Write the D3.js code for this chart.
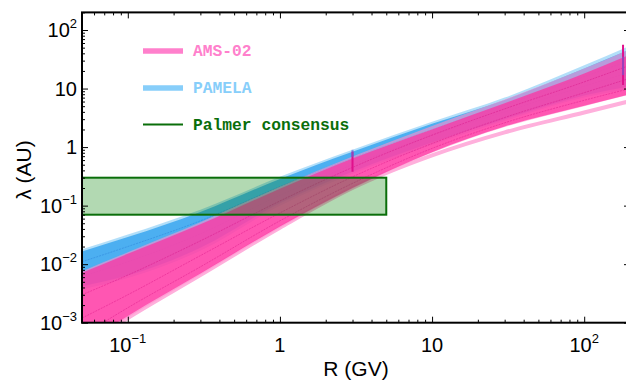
<!DOCTYPE html>
<html>
<head>
<meta charset="utf-8">
<script src="https://cdn.jsdelivr.net/npm/d3@7"></script>
<style>
  html, body { margin: 0; padding: 0; background: #fff; }
  svg { display: block; font-family: "Liberation Sans", Arial, sans-serif; }
  .legend text { font-family: "Liberation Mono", "Courier New", monospace; font-weight: bold; font-size: 16.3px; }
</style>
</head>
<body>
<div id="app"></div>
<script>
// rigidity knots (GV) and band edges (AU)
const R = [0.05, 0.1, 0.3, 1, 3, 10, 30, 100, 200];

const pamelaHi     = [0.018, 0.032, 0.085, 0.31, 0.90, 2.7, 7.0, 25, 54];
const pamelaLo     = [0.0037, 0.0058, 0.017, 0.10, 0.35, 1.1, 2.8, 7.0, 10];
const pamelaCoreHi = [0.0165, 0.029, 0.078, 0.285, 0.83, 2.5, 6.4, 22, 47];
const pamelaCoreLo = [0.0042, 0.0064, 0.019, 0.11, 0.38, 1.2, 3.0, 7.6, 11];
const pamelaStreaks = [
  [0.011, 0.020, 0.055, 0.21, 0.65, 2.0, 5.2, 16, 30],
  [0.0062, 0.011, 0.033, 0.15, 0.50, 1.6, 4.0, 11, 19]
];

const amsHi     = [0.0076, 0.016, 0.052, 0.21, 0.69, 2.3, 6.5, 22, 47];
const amsLo     = [0.0004, 0.00123, 0.0066, 0.042, 0.195, 0.80, 2.2, 5.0, 7.9];
const amsCoreHi = [0.0071, 0.015, 0.048, 0.195, 0.64, 2.0, 5.6, 18, 38];
const amsCoreLo = [0.00042, 0.0013, 0.0069, 0.044, 0.20, 0.82, 2.25, 5.1, 8.0];
const amsFaint  = [0.00038, 0.0012, 0.0065, 0.042, 0.20, 0.72, 1.78, 3.9, 6.1];
const amsStreaks = [
  [0.0030, 0.0065, 0.025, 0.12, 0.45, 1.6, 4.5, 13, 25],
  [0.0012, 0.0030, 0.014, 0.075, 0.31, 1.15, 3.2, 8.5, 15],
  [0.0006, 0.0018, 0.009, 0.055, 0.24, 0.95, 2.6, 6.3, 10]
];

// vertical marks
const markR  = [3, 180];
const markLo = [0.38, 11.5];
const markHi = [0.84, 56];
const markBlueLo = [0.68, 17];
const markBlueHi = [0.90, 35];

// Palmer consensus box
const palmerR = [0.05, 5];
const palmerL = [0.07, 0.3];

const xTickVals = [0.1, 1, 10, 100];
const xTickText = [["10", "\u22121"], ["1", ""], ["10", ""], ["10", "2"]];
const yTickVals = [0.001, 0.01, 0.1, 1, 10, 100];
const yTickText = [["10", "\u22123"], ["10", "\u22122"], ["10", "\u22121"], ["1", ""], ["10", ""], ["10", "2"]];

const legendNames = ["AMS-02", "PAMELA", "Palmer consensus"];
const legendColors = ["#ff80cc", "#87cefa", "#0a6e0a"];

const W = 626, H = 383;
const x = d3.scaleLog().domain([0.05, 200]).range([82, 630]);
const y = d3.scaleLog().domain([1e-3, 200]).range([322.7, 12.4]);

const svg = d3.select("#app").append("svg").attr("width", W).attr("height", H);

svg.append("clipPath").attr("id", "clip")
  .append("rect")
  .attr("x", x.range()[0]).attr("y", y.range()[1])
  .attr("width", x.range()[1] - x.range()[0])
  .attr("height", y.range()[0] - y.range()[1]);

const plot = svg.append("g").attr("clip-path", "url(#clip)");

const band = (lo, hi) => R.map((r, i) => ({ r, lo: lo[i], hi: hi[i] }));
const pts = (vals) => R.map((r, i) => ({ r, v: vals[i] }));
const area = d3.area()
  .x((d) => x(d.r))
  .y0((d) => y(d.lo))
  .y1((d) => y(d.hi))
  .curve(d3.curveMonotoneX);
const line = d3.line()
  .x((d) => x(d.r))
  .y((d) => y(d.v))
  .curve(d3.curveMonotoneX);

// PAMELA
plot.append("path").attr("d", area(band(pamelaLo, pamelaHi)))
  .attr("fill", "#a6d9f8").attr("opacity", 0.85);
plot.append("path").attr("d", area(band(pamelaCoreLo, pamelaCoreHi)))
  .attr("fill", "#2a9fee").attr("opacity", 0.75);
pamelaStreaks.forEach((s) => {
  plot.append("path").attr("d", line(pts(s)))
    .attr("fill", "none").attr("stroke", "#1f6fd0").attr("stroke-width", 1)
    .attr("stroke-dasharray", "2,1").attr("opacity", 0.35);
});

// AMS-02
plot.append("path").attr("d", line(pts(amsFaint)))
  .attr("fill", "none").attr("stroke", "#ffb0dc").attr("stroke-width", 4);
plot.append("path").attr("d", area(band(amsLo, amsHi)))
  .attr("fill", "#ff8fcd").attr("opacity", 0.6);
plot.append("path").attr("d", area(band(amsCoreLo, amsCoreHi)))
  .attr("fill", "#ff2fa0").attr("opacity", 0.72);
amsStreaks.forEach((s) => {
  plot.append("path").attr("d", line(pts(s)))
    .attr("fill", "none").attr("stroke", "#d0007a").attr("stroke-width", 1)
    .attr("stroke-dasharray", "2,1").attr("opacity", 0.35);
});

// vertical marks
plot.selectAll(".mark").data(markR).join("line")
  .attr("class", "mark")
  .attr("x1", (d) => x(d)).attr("x2", (d) => x(d))
  .attr("y1", (d, i) => y(markLo[i])).attr("y2", (d, i) => y(markHi[i]))
  .attr("stroke", "#e0108c").attr("stroke-width", 2);
plot.selectAll(".markb").data(markR).join("line")
  .attr("class", "markb")
  .attr("x1", (d) => x(d)).attr("x2", (d) => x(d))
  .attr("y1", (d, i) => y(markBlueLo[i])).attr("y2", (d, i) => y(markBlueHi[i]))
  .attr("stroke", "#6a5fd8").attr("stroke-width", 2).attr("opacity", 0.6);

// Palmer box
plot.append("rect")
  .attr("x", x(palmerR[0])).attr("y", y(palmerL[1]))
  .attr("width", x(palmerR[1]) - x(palmerR[0]))
  .attr("height", y(palmerL[0]) - y(palmerL[1]))
  .attr("fill", "green").attr("fill-opacity", 0.3)
  .attr("stroke", "#0a6e0a").attr("stroke-width", 2);

// axes: inward ticks on all four sides
const isMajor = (v) => Math.abs(Math.log10(v) - Math.round(Math.log10(v))) < 1e-6;
const xMinor = x.ticks().filter((v) => !isMajor(v));
const yMinor = y.ticks().filter((v) => !isMajor(v));
const x0 = x.range()[0], x1 = x.range()[1], y0 = y.range()[0], y1 = y.range()[1];

[[d3.axisBottom(x), `translate(0,${y0})`, xTickVals, xMinor],
 [d3.axisTop(x), `translate(0,${y1})`, xTickVals, xMinor],
 [d3.axisLeft(y), `translate(${x0},0)`, yTickVals, yMinor],
 [d3.axisRight(y), `translate(${x1},0)`, yTickVals, yMinor]].forEach(([ax, tr, maj, min]) => {
  svg.append("g").attr("transform", tr)
    .call(ax.tickValues(min).tickSize(-3).tickFormat(""))
    .call((g) => g.select(".domain").remove());
  svg.append("g").attr("transform", tr)
    .call(ax.tickValues(maj).tickSize(-6).tickFormat(""))
    .call((g) => g.select(".domain").remove());
});
svg.selectAll(".tick line").attr("stroke", "#000").attr("stroke-width", 1);

svg.append("rect")
  .attr("x", x0).attr("y", y1).attr("width", x1 - x0).attr("height", y0 - y1)
  .attr("fill", "none").attr("stroke", "#000").attr("stroke-width", 2);

// tick labels
const addLabel = (t, parts) => {
  t.append("tspan").text(parts[0]);
  if (parts[1]) t.append("tspan").attr("font-size", 13).attr("dy", -9).text(parts[1]);
};
xTickVals.forEach((v, i) => {
  const t = svg.append("text").attr("x", x(v)).attr("y", y0 + 29)
    .attr("text-anchor", "middle").attr("font-size", 20);
  addLabel(t, xTickText[i]);
});
yTickVals.forEach((v, i) => {
  const t = svg.append("text").attr("x", x0 - 5).attr("y", y(v) + 7)
    .attr("text-anchor", "end").attr("font-size", 20);
  addLabel(t, yTickText[i]);
});

// axis titles
svg.append("text").attr("x", 356).attr("y", 376).attr("text-anchor", "middle")
  .attr("font-size", 21).text("R (GV)");
svg.append("text").attr("transform", "translate(31,170) rotate(-90)")
  .attr("text-anchor", "middle").attr("font-size", 21).text("\u03bb (AU)");

// legend
const legend = svg.append("g").attr("class", "legend");
const legY = [51, 88, 124.5];
const legW = [5.5, 5.5, 2];
legendNames.forEach((name, i) => {
  legend.append("line").attr("x1", 143).attr("x2", 183)
    .attr("y1", legY[i]).attr("y2", legY[i])
    .attr("stroke", legendColors[i]).attr("stroke-width", legW[i]);
  legend.append("text").attr("x", 193).attr("y", legY[i]).attr("dy", "0.33em")
    .attr("fill", legendColors[i]).text(name);
});
</script>
</body>
</html>
